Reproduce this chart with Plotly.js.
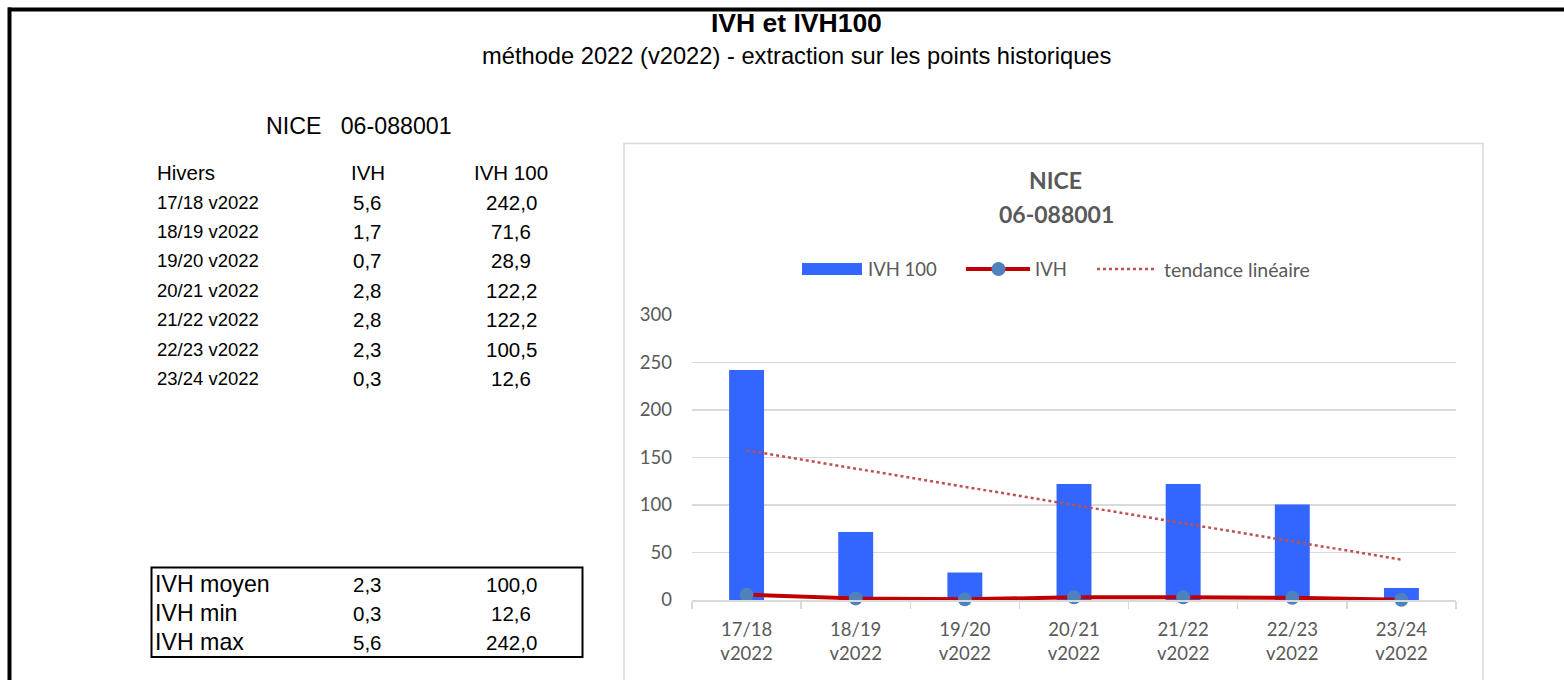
<!DOCTYPE html>
<html>
<head>
<meta charset="utf-8">
<script src="https://cdn.plot.ly/plotly-3.0.1.min.js"></script>
<style>
html,body{margin:0;padding:0;background:#fff;}
#chart{width:1564px;height:680px;}
</style>
</head>
<body>
<div id="chart"></div>
<script>
// ---- data ----
const categories = ['17/18 v2022','18/19 v2022','19/20 v2022','20/21 v2022','21/22 v2022','22/23 v2022','23/24 v2022'];
const ivh = [5.6, 1.7, 0.7, 2.8, 2.8, 2.3, 0.3];
const ivh100 = [242.0, 71.6, 28.9, 122.2, 122.2, 100.5, 12.6];
const trendIvh100 = [157.5, 138.3, 119.2, 100.0, 80.8, 61.7, 42.5];
const statLabels = ['IVH moyen', 'IVH min', 'IVH max'];
const statIvh = [2.3, 0.3, 5.6];
const statIvh100 = [100.0, 12.6, 242.0];
const stationName = 'NICE';
const stationCode = '06-088001';

// ---- helpers: pixel -> paper ----
const W = 1564, H = 680;
const M = {l: 692, r: 108, t: 315, b: 80};
const PW = W - M.l - M.r, PH = H - M.t - M.b;
const X = px => (px - M.l) / PW;
const Y = py => (H - M.b - py) / PH;
const fmt = v => v.toFixed(1).replace('.', ',');

const ARIAL = 'Liberation Sans, Arial, sans-serif';
const CAL = 'Lato, Calibri, sans-serif';
const GREY = '#595959';

const ticktext = categories.map(c => c.replace(' ', '<br>'));

const traces = [
  {type: 'bar', x: categories, y: ivh100, name: 'IVH 100', marker: {color: '#3366FF'}, showlegend: false, hoverinfo: 'skip'},
  {type: 'scatter', mode: 'lines', x: categories, y: trendIvh100, name: 'tendance linéaire',
   line: {color: '#C0504D', width: 2.5, dash: 'dot'}, showlegend: false, hoverinfo: 'skip'},
  {type: 'scatter', mode: 'lines+markers', x: categories, y: ivh, name: 'IVH', cliponaxis: false,
   line: {color: '#C00000', width: 4}, marker: {color: '#4F81BD', size: 14}, showlegend: false, hoverinfo: 'skip'}
];

const ann = [];
function txt(text, px, py, size, opts) {
  opts = opts || {};
  ann.push({text: text, xref: 'paper', yref: 'paper', x: X(px), y: Y(py),
    xanchor: opts.xa || 'left', yanchor: 'middle', showarrow: false,
    font: {family: opts.family || ARIAL, size: size, color: opts.color || '#000'}});
}
// Page titles
txt('<b>IVH et IVH100</b>', 796, 23, 26.5, {xa: 'center'});
txt('méthode 2022 (v2022) - extraction sur les points historiques', 796, 56, 23.7, {xa: 'center'});
txt(stationName + '\u00a0\u00a0\u00a0' + stationCode, 264, 126, 23.2);
// Table
txt('Hivers', 155, 172, 20.5);
txt('IVH', 368, 172, 20.5, {xa: 'center'});
txt('IVH 100', 511, 172, 20.5, {xa: 'center'});
const rowY0 = 202, rowDY = 29.4;
categories.forEach((c, i) => {
  const y = rowY0 + i * rowDY;
  txt(c, 155, y, 18.5);
  txt(fmt(ivh[i]), 367, y, 20.5, {xa: 'center'});
  txt(fmt(ivh100[i]), 511, y, 20.5, {xa: 'center'});
});
// Stats box
const statY = [584, 613, 642];
statLabels.forEach((l, i) => {
  txt(l, 153, statY[i], 23.2);
  txt(fmt(statIvh[i]), 367, statY[i], 20.5, {xa: 'center'});
  txt(fmt(statIvh100[i]), 511, statY[i], 20.5, {xa: 'center'});
});
// Chart title
txt('<b>' + stationName + '</b>', 1055, 180, 23, {xa: 'center', family: CAL, color: GREY});
txt('<b>' + stationCode + '</b>', 1056, 214, 23, {xa: 'center', family: CAL, color: GREY});
// Legend texts
txt('IVH 100', 866, 269, 18.5, {family: CAL, color: GREY});
txt('IVH', 1033, 269, 18.5, {family: CAL, color: GREY});
txt('tendance linéaire', 1162, 269, 19.5, {family: CAL, color: GREY});

const shapes = [];
function line(x0, y0, x1, y1, color, width, dash) {
  shapes.push({type: 'line', xref: 'paper', yref: 'paper', x0: X(x0), y0: Y(y0), x1: X(x1), y1: Y(y1),
    line: {color: color, width: width, dash: dash || 'solid'}, layer: 'above'});
}
function rect(x0, y0, x1, y1, color, width, fill) {
  shapes.push({type: 'rect', xref: 'paper', yref: 'paper', x0: X(x0), y0: Y(y0), x1: X(x1), y1: Y(y1),
    line: {color: color, width: width}, fillcolor: fill || 'rgba(0,0,0,0)', layer: 'below'});
}
// outer frame
line(8, 9.5, 1564, 9.5, '#000', 4);
line(9.5, 7.5, 9.5, 680, '#000', 4);
// chart area frame
rect(624, 143.5, 1483, 700, '#D9D9D9', 1.5);
// stats box
rect(151.5, 567.5, 582.5, 657, '#000', 2);
// legend symbols
rect(802, 263, 862, 275, '#3366FF', 0, '#3366FF');
line(966, 269, 1030, 269, '#C00000', 4);
shapes.push({type: 'circle', xref: 'paper', yref: 'paper', x0: X(991.5), y0: Y(276), x1: X(1005.5), y1: Y(262),
  line: {width: 0}, fillcolor: '#4F81BD', layer: 'above'});
line(1097, 269, 1156, 269, '#C0504D', 2.5, 'dot');

const layout = {
  width: W, height: H,
  margin: M,
  paper_bgcolor: '#fff', plot_bgcolor: 'rgba(0,0,0,0)',
  showlegend: false,
  bargap: 0.68,
  xaxis: {
    type: 'category', tickvals: categories, ticktext: ticktext,
    showline: true, linecolor: '#D9D9D9', linewidth: 1.5,
    ticks: 'outside', tickson: 'boundaries', ticklen: 7, tickcolor: '#D9D9D9', tickwidth: 1.5,
    showgrid: false, tickfont: {family: CAL, size: 18.5, color: GREY},
    ticklabelstandoff: 12, fixedrange: true
  },
  yaxis: {
    range: [0, 300], dtick: 50, showline: false, ticks: '', zeroline: false,
    gridcolor: '#D9D9D9', gridwidth: 1.5, tickfont: {family: CAL, size: 18.5, color: GREY},
    ticklabelstandoff: 19, fixedrange: true
  },
  annotations: ann,
  shapes: shapes
};

Plotly.newPlot('chart', traces, layout, {staticPlot: true, displayModeBar: false});
</script>
</body>
</html>
